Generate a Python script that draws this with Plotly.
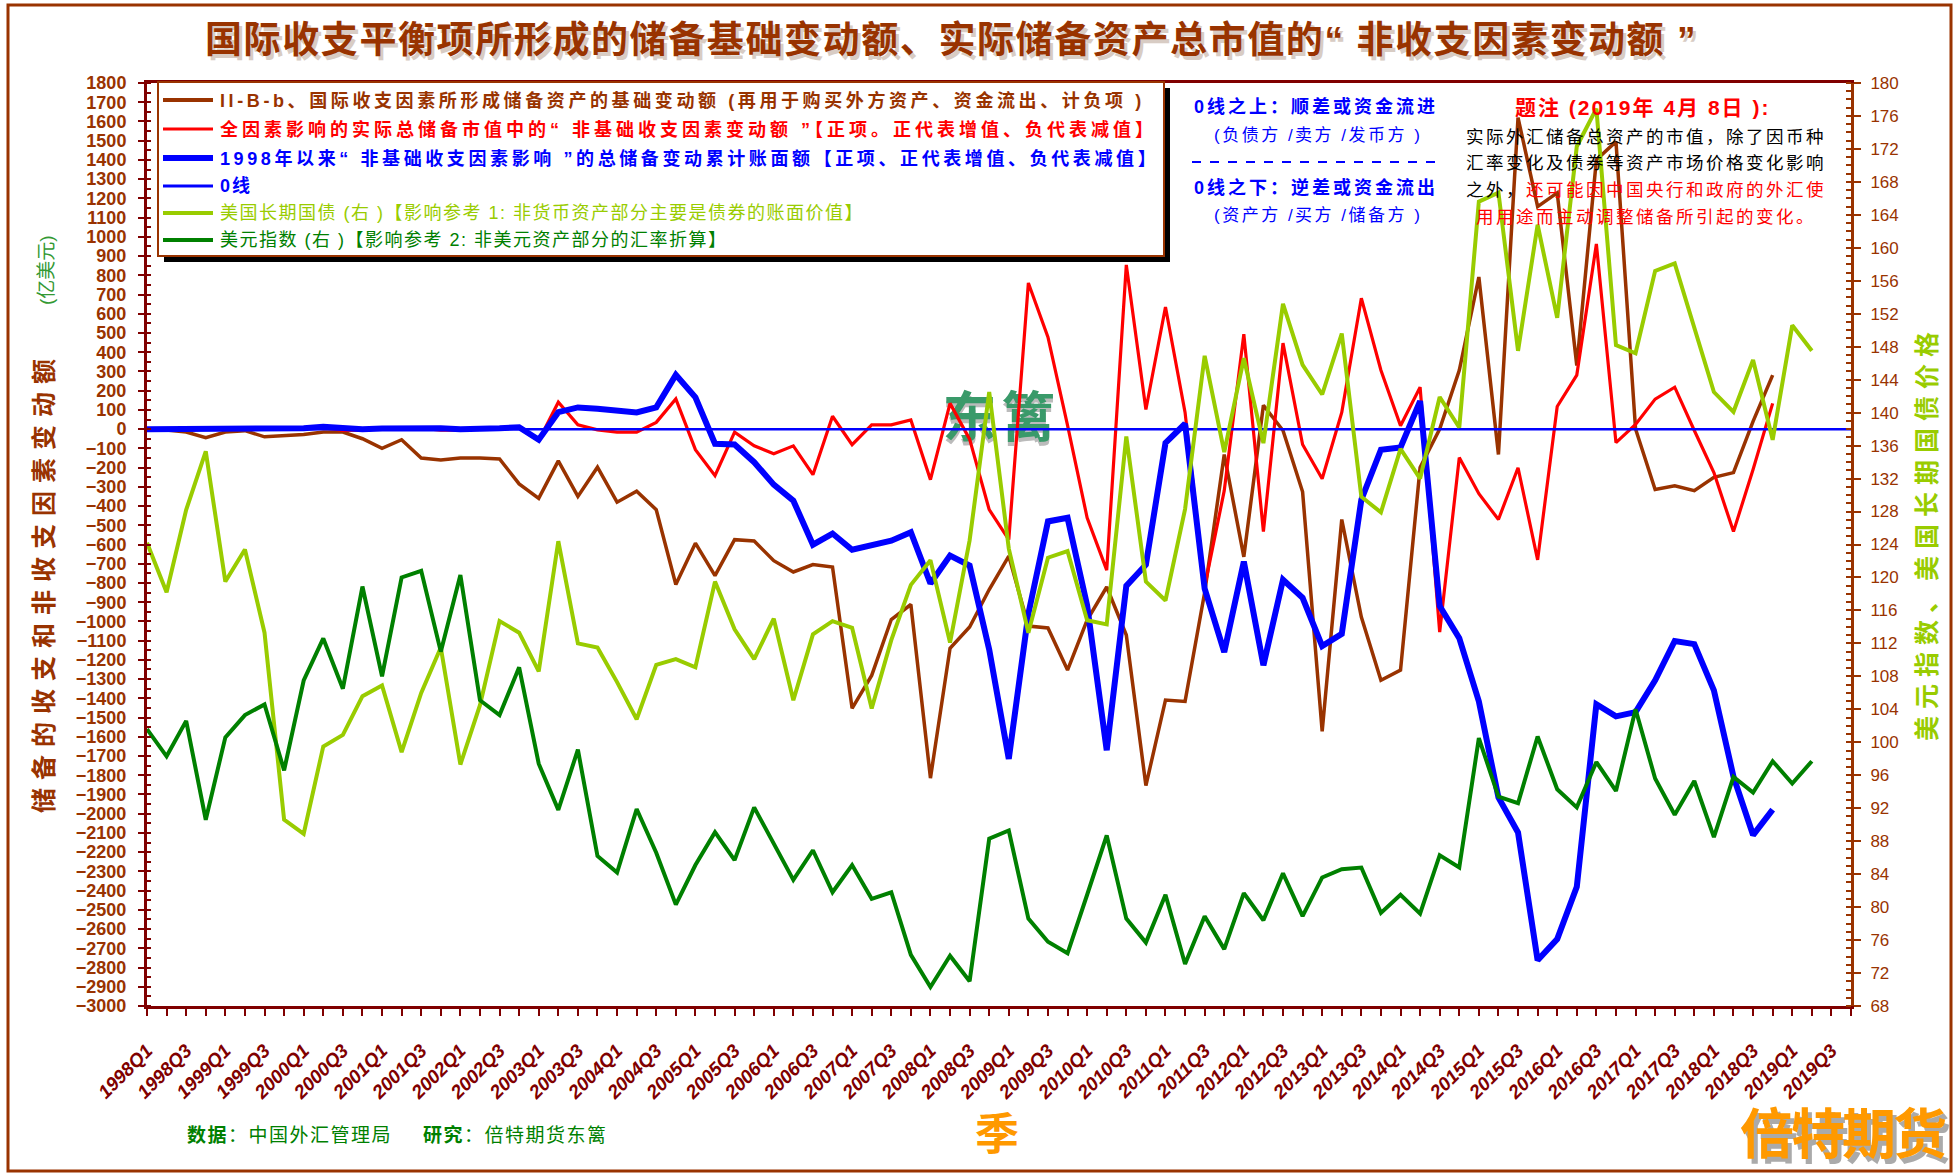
import plotly.graph_objects as go

# ---------------- data ----------------
quarters = [f"{y}Q{q}" for y in range(1998, 2020) for q in range(1, 5)]  # 1998Q1 .. 2019Q4

bop_base = [0, -5, -15, -45, -15, -8, -40, -35, -28, -15, -15, -50, -100, -55, -150, -160,
            -150, -150, -155, -285, -360, -165, -350, -198, -380, -323, -419, -808, -593, -762,
            -575, -582, -684, -743, -704, -717, -1452, -1281, -990, -912, -1815, -1140, -1029,
            -834, -660, -1024, -1034, -1253, -993, -821, -1071, -1854, -1409, -1416, -850, -132,
            -664, 124, -7, -326, -1572, -470, -977, -1306, -1253, -200, 0, 306, 791, -132, 1620,
            1157, 1229, 331, 1401, 1495, 1, -314, -295, -320, -251, -226, 40, 281]

non_bop = [0, 2, -3, 2, 0, 3, -2, 0, 5, 7, -7, -5, 3, 2, 5, -5, -5, 0, 5, 5, -60, 140, 22, -4,
           -16, -16, 35, 157, -107, -242, -16, -87, -128, -87, -237, 67, -81, 22, 22, 48, -263,
           134, -52, -419, -575, 760, 478, 20, -461, -733, 854, 102, 635, 87, -821, -320, 494,
           -533, 447, -80, -258, 87, 681, 306, 18, 218, -1056, -148, -336, -470, -201, -680, 118,
           281, 963, -70, 24, 156, 218, -7, -226, -533, -210, 134]

cum_non_bop = [0, 0, 0, 0, 0, 0, 0, 0, 5, 12, 5, 0, 3, 5, 10, 5, 0, 0, 5, 10, -55, 88, 113, 106,
               95, 87, 113, 282, 165, -76, -80, -172, -289, -372, -601, -543, -627, -606, -580,
               -536, -803, -658, -710, -1146, -1715, -960, -480, -461, -918, -1670, -815, -705,
               -72, 28, -830, -1160, -689, -1228, -783, -877, -1128, -1065, -367, -107, -95, 146,
               -920, -1087, -1416, -1916, -2098, -2762, -2652, -2380, -1431, -1494, -1472, -1306,
               -1102, -1118, -1359, -1807, -2111, -1979]

zero_line = [0] * 88

bond = [124.2, 118.2, 128.2, 135.3, 119.5, 123.4, 113.3, 90.6, 88.9, 99.5, 100.9, 105.6, 106.9,
        98.8, 106.0, 111.5, 97.3, 104.5, 114.7, 113.3, 108.6, 124.4, 112.0, 111.5, 107.3, 102.8,
        109.4, 110.1, 109.1, 119.5, 113.7, 110.1, 115.0, 105.1, 113.1, 114.7, 113.9, 104.1, 112.4,
        119.1, 122.1, 112.1, 124.5, 142.5, 123.5, 113.3, 122.4, 123.2, 114.8, 114.3, 137.1, 119.5,
        117.2, 128.3, 146.9, 135.2, 146.6, 136.3, 153.2, 145.8, 142.2, 149.6, 129.8, 127.9, 135.6,
        132.0, 141.9, 138.2, 165.6, 166.7, 147.5, 162.8, 151.5, 172.3, 176.9, 148.2, 147.2, 157.2,
        158.1, 150.2, 142.5, 140.1, 146.4, 136.7, 150.6, 147.5]

dxy = [101.6, 98.3, 102.6, 90.6, 100.6, 103.3, 104.6, 96.6, 107.5, 112.6, 106.5, 118.9, 108.0,
       120.0, 120.8, 111.0, 120.3, 105.1, 103.3, 109.1, 97.4, 91.8, 99.1, 86.2, 84.2, 91.9, 86.6,
       80.3, 85.1, 89.1, 85.7, 92.1, 87.7, 83.3, 86.9, 81.8, 85.1, 81.0, 81.8, 74.2, 70.3, 74.1,
       71.0, 88.3, 89.3, 78.6, 75.8, 74.4, 81.5, 88.7, 78.6, 75.7, 81.5, 73.1, 78.9, 74.9, 81.7,
       78.4, 84.1, 78.9, 83.6, 84.6, 84.8, 79.3, 81.5, 79.2, 86.3, 84.8, 100.5, 93.4, 92.6, 100.7,
       94.3, 92.1, 97.6, 94.1, 104.0, 95.6, 91.2, 95.3, 88.5, 95.8, 93.9, 97.7, 95.0, 97.7]

tick_text = [q if i % 2 == 0 else "" for i, q in enumerate(quarters)]

# ---------------- style ----------------
FONT = "Liberation Sans, Arial, Noto Sans CJK SC, sans-serif"
BROWN = "#993300"
DARKRED = "#800000"
RED = "#FF0000"
BLUE = "#0000FF"
LGREEN = "#99CC00"
DGREEN = "#008000"
ORANGE = "#FF9900"

W, H = 1956, 1174
L, R, T, B = 147, 1851, 83, 1006


def PX(x):
    return (x - L) / (R - L)


def PY(y):
    return (B - y) / (B - T)


def sp(text, ls, extra=""):
    return f"<span style='letter-spacing:{ls}px;{extra}'>{text}</span>"


fig = go.Figure()

# watermark (below lines)
fig.add_trace(go.Scatter(x=["2008Q3", "2009Q2"], y=[10, 10], mode="text", text=["东", "篱"],
                         textfont=dict(size=54, color="#bbbbbb", family=FONT, weight="bold"),
                         hoverinfo="skip", showlegend=False))
fig.add_trace(go.Scatter(x=["2008Q3", "2009Q2"], y=[27, 27], mode="text", text=["东", "篱"],
                         textfont=dict(size=54, color="#3A9A6A", family=FONT, weight="bold"),
                         hoverinfo="skip", showlegend=False))

n = len(bop_base)
fig.add_trace(go.Scatter(x=quarters[:n], y=bop_base, mode="lines",
                         line=dict(color=BROWN, width=3.5), name="II-B-b"))
fig.add_trace(go.Scatter(x=quarters[:n], y=non_bop, mode="lines",
                         line=dict(color=RED, width=3.2), name="非基础收支因素变动额"))
fig.add_trace(go.Scatter(x=quarters[:n], y=cum_non_bop, mode="lines",
                         line=dict(color=BLUE, width=6), name="累计"))
fig.add_trace(go.Scatter(x=quarters, y=zero_line, mode="lines",
                         line=dict(color=BLUE, width=2.5), name="0线"))
m = len(bond)
fig.add_trace(go.Scatter(x=quarters[:m], y=bond, mode="lines", yaxis="y2",
                         line=dict(color=LGREEN, width=4), name="美国长期国债"))
fig.add_trace(go.Scatter(x=quarters[:m], y=dxy, mode="lines", yaxis="y2",
                         line=dict(color=DGREEN, width=4), name="美元指数"))

fig.update_layout(
    width=W, height=H,
    margin=dict(l=L, r=W - R, t=T, b=H - B, pad=0),
    paper_bgcolor="white", plot_bgcolor="white",
    showlegend=False,
    font=dict(family=FONT),
    xaxis=dict(type="category", categoryorder="array", categoryarray=quarters,
               range=[0, len(quarters) - 1], tickmode="array", tickvals=quarters,
               ticktext=tick_text, tickangle=-45,
               tickfont=dict(size=19, color=DARKRED, family=FONT, weight="bold", style="italic"),
               ticks="outside", ticklen=7, tickwidth=2, tickcolor=DARKRED,
               showline=True, linecolor=DARKRED, linewidth=3, mirror=True,
               showgrid=False, zeroline=False, ticklabelstandoff=16, automargin=False),
    yaxis=dict(range=[-3000, 1800], tickmode="linear", tick0=0, dtick=100,
               tickfont=dict(size=18, color=BROWN, family=FONT, weight="bold"),
               ticks="outside", ticklen=6, tickwidth=2, tickcolor=DARKRED,
               showline=True, linecolor=DARKRED, linewidth=3,
               showgrid=False, zeroline=False, ticklabelstandoff=8, automargin=False,
               minor=dict(ticks="inside", ticklen=4, dtick=50, tick0=0,
                          tickcolor=DARKRED, tickwidth=1.5, showgrid=False)),
    yaxis2=dict(overlaying="y", side="right", range=[68, 180], tickmode="linear", tick0=68, dtick=4,
                tickfont=dict(size=17, color=BROWN, family=FONT),
                ticks="outside", ticklen=7, tickwidth=2, tickcolor=BROWN,
                showline=True, linecolor=BROWN, linewidth=3,
                showgrid=False, zeroline=False, ticklabelstandoff=6, automargin=False,
                minor=dict(ticks="inside", ticklen=5, dtick=1, tick0=68,
                           tickcolor=BROWN, tickwidth=1.5, showgrid=False)),
)

shapes = []
annotations = []


def ann(text, x, y, size, color, bold=False, xanchor="center", yanchor="middle", angle=0):
    annotations.append(dict(text=text, x=PX(x), y=PY(y), xref="paper", yref="paper",
                            showarrow=False, xanchor=xanchor, yanchor=yanchor, textangle=angle,
                            font=dict(size=size, color=color, family=FONT,
                                      weight="bold" if bold else "normal")))


def rect(x0, y0, x1, y1, line=None, fill=None, lw=2, layer="above"):
    shapes.append(dict(type="rect", xref="paper", yref="paper",
                       x0=PX(x0), x1=PX(x1), y0=PY(y0), y1=PY(y1),
                       line=dict(color=line or "rgba(0,0,0,0)", width=lw if line else 0),
                       fillcolor=fill or "rgba(0,0,0,0)", layer=layer))


def hline(x0, x1, y, color, width, dash="solid"):
    shapes.append(dict(type="line", xref="paper", yref="paper",
                       x0=PX(x0), x1=PX(x1), y0=PY(y), y1=PY(y),
                       line=dict(color=color, width=width, dash=dash), layer="above"))


# outer frame
rect(8, 5, 1951, 1171, line=BROWN, lw=3)

# title with shadow
title = "国际收支平衡项所形成的储备基础变动额、实际储备资产总市值的“ 非收支因素变动额 ”"
ann(sp(title, 1.6), 954, 44, 37, "#d8ccc4", bold=True)
ann(sp(title, 1.6), 951, 41, 37, BROWN, bold=True)

# legend box with black shadow
rect(164, 88, 1170, 262, fill="black", layer="above")
rect(158, 82, 1164, 256, line=BROWN, fill="white", lw=2, layer="above")
legend_rows = [
    ("II-B-b、国际收支因素所形成储备资产的基础变动额 (再用于购买外方资产、资金流出、计负项 )", BROWN, True, 4, 3.6),
    ("全因素影响的实际总储备市值中的“ 非基础收支因素变动额 ”【正项。正代表增值、负代表减值】", RED, True, 3, 4.0),
    ("1998年以来“ 非基础收支因素影响 ”的总储备变动累计账面额【正项、正代表增值、负代表减值】", BLUE, True, 6, 3.6),
    ("0线", BLUE, True, 3, 2),
    ("美国长期国债 (右 )【影响参考 1: 非货币资产部分主要是债券的账面价值】", LGREEN, False, 4, 1.5),
    ("美元指数 (右 )【影响参考 2: 非美元资产部分的汇率折算】", DGREEN, False, 4, 1.5),
]
row_y = [100, 129, 158, 186, 213, 240]
for (txt, col, bold, lw, ls), yy in zip(legend_rows, row_y):
    hline(163, 213, yy, col, lw)
    ann(sp(txt, ls), 218, yy, 18, col, bold=bold, xanchor="left")

# zero-line notes
ann(sp("0线之上：顺差或资金流进", 3), 1316, 107, 18, BLUE, bold=True)
ann(sp("(负债方 /卖方 /发币方 )", 2.5), 1318, 135, 17, BLUE)
hline(1192, 1442, 162, BLUE, 2, dash="dash")
ann(sp("0线之下：逆差或资金流出", 3), 1316, 188, 18, BLUE, bold=True)
ann(sp("(资产方 /买方 /储备方 )", 2.5), 1318, 215, 17, BLUE)

# note block
ann(sp("题注 (2019年 4月 8日 ):", 2), 1642, 108, 21, RED, bold=True)
ann(sp("实际外汇储备总资产的市值，除了因币种", 2.5), 1464, 137, 17.5, "black", xanchor="left")
ann(sp("汇率变化及债券等资产市场价格变化影响", 2.5), 1464, 163, 17.5, "black", xanchor="left")
ann(sp("之外，", 2.5) + sp("还可能因中国央行和政府的外汇使", 2.5, "color:#FF0000"),
    1464, 190, 17.5, "black", xanchor="left")
ann(sp("用用途而主动调整储备所引起的变化。", 2.5), 1474, 217, 17.5, RED, xanchor="left")

# axis titles
ann(sp("储备的收支和非收支因素变动额", 8), 44, 582, 25, BROWN, bold=True, angle=-90)
ann("(亿美元)", 46, 270, 19, "#339933", angle=-90)
ann(sp("美元指数、美国长期国债价格", 7), 1927, 533, 25, LGREEN, bold=True, angle=-90)
ann("季", 997, 1134, 44, ORANGE, bold=True)

# footer
ann(sp("<b>数据</b>：中国外汇管理局", 1.5), 185, 1135, 19, DGREEN, xanchor="left")
ann(sp("<b>研究</b>：倍特期货东篱", 1.5), 421, 1135, 19, DGREEN, xanchor="left")

# logo with shadow
ann(sp("倍特期货", -3), 1846, 1140, 54, "#aaaaaa", bold=True)
ann(sp("倍特期货", -3), 1842, 1135, 54, ORANGE, bold=True)

fig.update_layout(shapes=shapes, annotations=annotations)

fig.write_html("out.html", config={"displayModeBar": False},
               post_script="document.body.style.margin='0';document.body.style.overflow='hidden';")
